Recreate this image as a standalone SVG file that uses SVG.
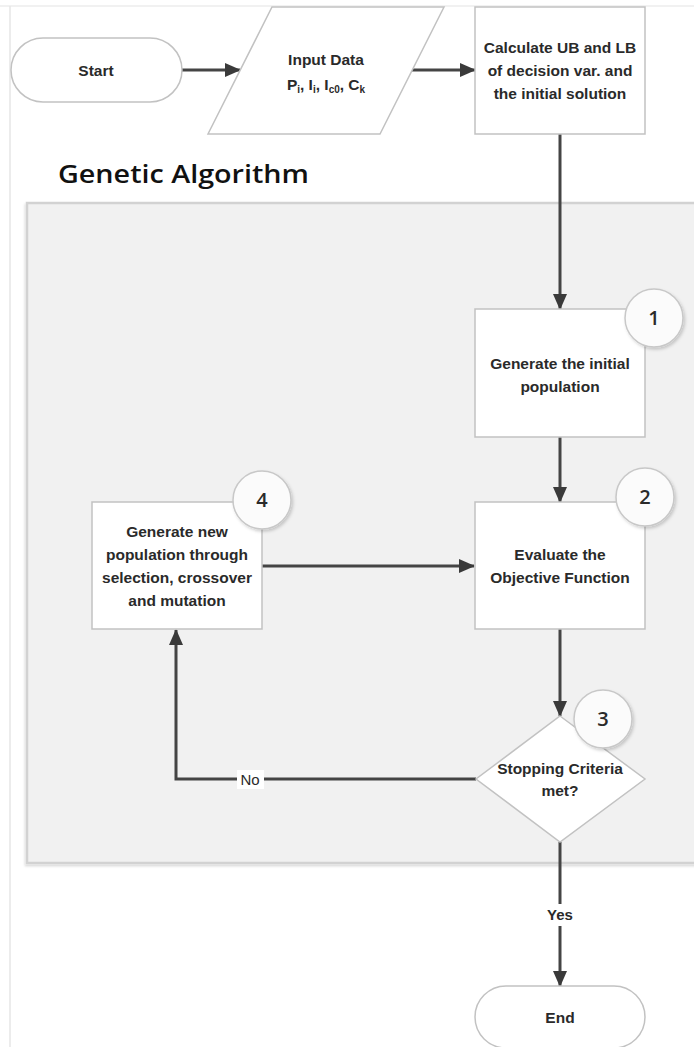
<svg xmlns="http://www.w3.org/2000/svg" width="694" height="1047" viewBox="0 0 694 1047">
  <style>
    .shape { fill: #ffffff; stroke: #c2c2c2; stroke-width: 1.5; }
    .label { font-family: "Liberation Sans", Arial, sans-serif; font-weight: bold; font-size: 15.5px; fill: #2a2a2a; text-anchor: middle; }
    .num { font-family: "Open Sans", "Liberation Sans", sans-serif; font-weight: 600; font-size: 20px; fill: #2a2a2a; text-anchor: middle; }
    .badge { fill: #fbfbfb; stroke: #c8c8c8; stroke-width: 1.5; filter: url(#soft); }
    .flow { fill: none; stroke: #444444; stroke-width: 3; marker-end: url(#head); }
    .edge-label { font-family: "Liberation Sans", Arial, sans-serif; font-weight: bold; font-size: 15px; fill: #2a2a2a; text-anchor: middle; }
    .title { font-family: "Open Sans", "Liberation Sans", sans-serif; font-weight: 600; font-size: 26px; fill: #111111; }
  </style>
  <defs>
    <marker id="head" viewBox="0 0 16 14" markerWidth="16" markerHeight="14" refX="15" refY="7" orient="auto" markerUnits="userSpaceOnUse">
      <path d="M0,0 L16,7 L0,14 Z" fill="#3a3a3a"/>
    </marker>
    <filter id="soft" x="-30%" y="-30%" width="160%" height="160%">
      <feDropShadow dx="1.5" dy="2" stdDeviation="1.5" flood-color="#000000" flood-opacity="0.18"/>
    </filter>
    <filter id="panelShadow" x="-5%" y="-5%" width="110%" height="110%">
      <feDropShadow dx="-1" dy="2" stdDeviation="1.2" flood-color="#000000" flood-opacity="0.15"/>
    </filter>
  </defs>

  <!-- page background and faint frame -->
  <rect x="0" y="0" width="694" height="1047" fill="#ffffff"/>
  <line x1="0" y1="6" x2="694" y2="6" stroke="#ececec" stroke-width="1.5"/>
  <line x1="10" y1="6" x2="10" y2="1047" stroke="#e6e6e6" stroke-width="1.5"/>

  <!-- genetic algorithm panel -->
  <g id="ga-panel">
    <rect x="27" y="203" width="700" height="660" fill="#f1f1f1" stroke="#d2d2d2" stroke-width="2.5" filter="url(#panelShadow)"/>
    <text class="title" x="58" y="183" textLength="251" lengthAdjust="spacingAndGlyphs">Genetic Algorithm</text>
  </g>

  <!-- connectors -->
  <g id="connectors">
    <line class="flow" x1="182" y1="70" x2="240" y2="70"/>
    <line class="flow" x1="412" y1="70" x2="475" y2="70"/>
    <line class="flow" x1="560" y1="134" x2="560" y2="309"/>
    <line class="flow" x1="560" y1="437" x2="560" y2="502"/>
    <line class="flow" x1="262" y1="566" x2="474" y2="566"/>
    <line class="flow" x1="560" y1="629" x2="560" y2="716"/>
    <path class="flow" d="M476,779 H176 V630"/>
    <line class="flow" x1="560" y1="842" x2="560" y2="986"/>
    <rect x="237" y="770" width="27" height="19" fill="#ffffff"/>
    <text class="edge-label" x="250" y="785" style="font-weight:normal">No</text>
    <rect x="544" y="904" width="32" height="22" fill="#ffffff"/>
    <text class="edge-label" x="560" y="920">Yes</text>
  </g>

  <!-- nodes -->
  <g id="start">
    <rect class="shape" x="11" y="38" width="171" height="64" rx="32" ry="32"/>
    <text class="label" x="96" y="76">Start</text>
  </g>

  <g id="input-data">
    <polygon class="shape" points="272,7 444,7 380,134 208,134"/>
    <text class="label" x="326" y="65">Input Data</text>
    <text class="label" x="326" y="90">P<tspan font-size="10" dy="3">i</tspan><tspan dy="-3">, I</tspan><tspan font-size="10" dy="3">i</tspan><tspan dy="-3">, I</tspan><tspan font-size="10" dy="3">c0</tspan><tspan dy="-3">, C</tspan><tspan font-size="10" dy="3">k</tspan></text>
  </g>

  <g id="bounds">
    <rect class="shape" x="475" y="7" width="170" height="127"/>
    <text class="label" x="560" y="53">Calculate UB and LB</text>
    <text class="label" x="560" y="76">of decision var. and</text>
    <text class="label" x="560" y="99">the initial solution</text>
  </g>

  <g id="step1">
    <rect class="shape" x="475" y="309" width="170" height="128"/>
    <text class="label" x="560" y="369">Generate the initial</text>
    <text class="label" x="560" y="392">population</text>
    <circle class="badge" cx="654" cy="318" r="29"/>
    <text class="num" x="654" y="325">1</text>
  </g>

  <g id="step2">
    <rect class="shape" x="475" y="502" width="170" height="127"/>
    <text class="label" x="560" y="560">Evaluate the</text>
    <text class="label" x="560" y="583">Objective Function</text>
    <circle class="badge" cx="645" cy="497" r="29"/>
    <text class="num" x="645" y="504">2</text>
  </g>

  <g id="step3">
    <polygon class="shape" points="560,716 645,779 560,842 476,779"/>
    <text class="label" x="560" y="774">Stopping Criteria</text>
    <text class="label" x="560" y="796">met?</text>
    <circle class="badge" cx="603" cy="719" r="29"/>
    <text class="num" x="603" y="726">3</text>
  </g>

  <g id="step4">
    <rect class="shape" x="92" y="502" width="170" height="127"/>
    <text class="label" x="177" y="537">Generate new</text>
    <text class="label" x="177" y="560">population through</text>
    <text class="label" x="177" y="583">selection, crossover</text>
    <text class="label" x="177" y="606">and mutation</text>
    <circle class="badge" cx="262" cy="500" r="29"/>
    <text class="num" x="262" y="507">4</text>
  </g>

  <g id="end">
    <rect class="shape" x="475" y="986" width="170" height="62" rx="31" ry="31"/>
    <text class="label" x="560" y="1023">End</text>
  </g>
</svg>
